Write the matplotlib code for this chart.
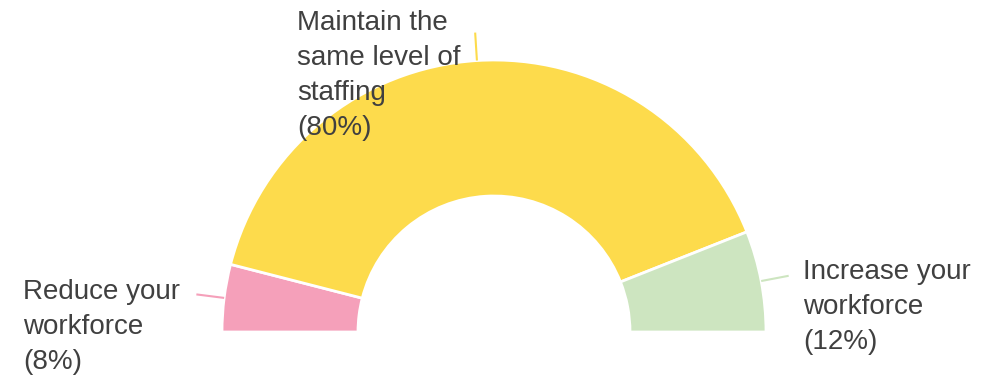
import numpy as np
import matplotlib.pyplot as plt

# data
labels = ["Reduce your\nworkforce", "Maintain the\nsame level of\nstaffing", "Increase your\nworkforce"]
shares = [8, 80, 12]
colors = ["#F5A0BA", "#FDDB4C", "#CDE5C0"]

text_color = "#404040"
plt.rcParams["font.family"] = ["Liberation Sans", "DejaVu Sans"]

fig = plt.figure(figsize=(9.98, 3.75), dpi=100)
ax = fig.add_axes([0, 0, 1, 1])
ax.set_axis_off()

cx, cy, r_out = 494, 43, 272

# half donut: each share is a fraction of a half circle
fracs = np.array(shares) / 200
wedges, _ = ax.pie(fracs, normalize=False, startangle=180, counterclock=False,
                   colors=colors, center=(cx, cy), radius=r_out,
                   wedgeprops=dict(width=136, edgecolor="white", linewidth=2))
ax.set_xlim(0, 998)
ax.set_ylim(0, 375)
ax.set_aspect("equal")

# label text positions (left, top)
text_pos = [(23, 96), (297, 365), (803, 116)]
for w, c, lab, s, (tx, ty) in zip(wedges, colors, labels, shares, text_pos):
    # leader line at the wedge mid angle
    mid = np.deg2rad((w.theta1 + w.theta2) / 2)
    x0 = cx + r_out * np.cos(mid)
    y0 = cy + r_out * np.sin(mid)
    x1 = cx + (r_out + 28) * np.cos(mid)
    y1 = cy + (r_out + 28) * np.sin(mid)
    ax.plot([x0, x1], [y0, y1], color=c, lw=1.5, solid_capstyle="butt")
    ax.text(tx, ty, f"{lab}\n({s}%)", ha="left", va="top", fontsize=20,
            color=text_color, linespacing=1.45)

fig.savefig("out.png", dpi=100, facecolor="white")
